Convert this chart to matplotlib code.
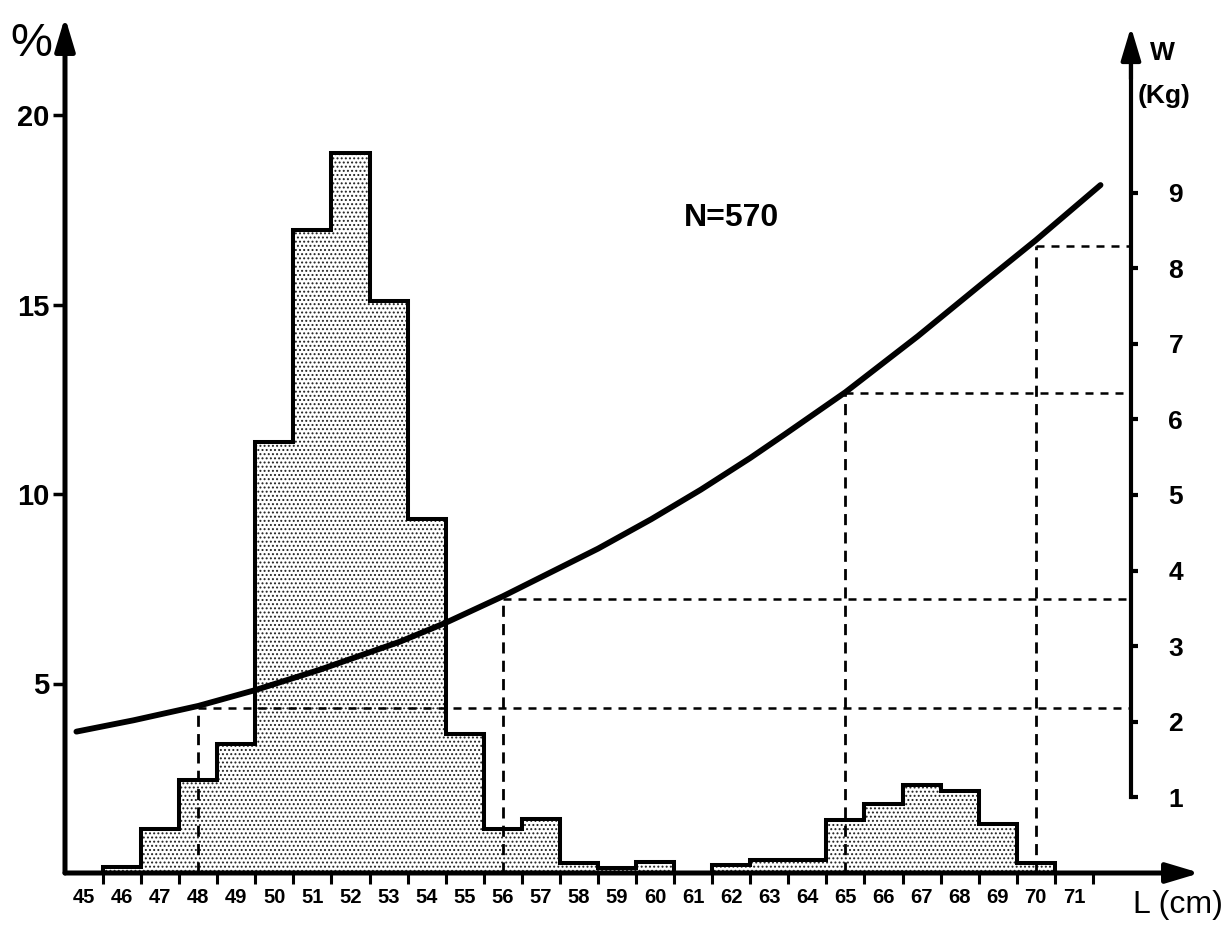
import matplotlib.pyplot as plt
import numpy as np

plt.rcParams["font.family"] = ["Liberation Sans", "DejaVu Sans"]
plt.rcParams["hatch.linewidth"] = 0.9

# length classes (cm) and their share of the sample (%)
lengths = np.arange(45, 72)
percent = [0.0, 0.15, 1.16, 2.45, 3.4, 11.37, 16.97, 19.0, 15.1, 9.34, 3.66,
           1.16, 1.42, 0.26, 0.13, 0.29, 0.0, 0.21, 0.34, 0.34, 1.4, 1.82,
           2.32, 2.16, 1.29, 0.26, 0.0]
edges = np.append(lengths - 0.5, lengths[-1] + 0.5)

# length-weight curve, W in kg
curve_L = [44.8, 46.3, 48.0, 49.5, 51.2, 53.3, 54.5, 56.0, 58.5, 59.9,
           61.2, 62.5, 63.4, 65.0, 66.9, 68.6, 70.0, 71.7]
curve_W = [1.87, 2.02, 2.21, 2.42, 2.69, 3.06, 3.31, 3.66, 4.29, 4.68,
           5.07, 5.49, 5.8, 6.36, 7.1, 7.8, 8.37, 9.1]

# reading lines: length -> weight
guide_L = [48, 56, 65, 70]
guide_W = [2.18, 3.63, 6.35, 8.3]

w_ticks = list(range(1, 10))
pct_ticks = [5, 10, 15, 20]

W_PX, H_PX = 1231, 926
fig = plt.figure(figsize=(W_PX / 100, H_PX / 100), dpi=100)

# axes box in pixels: origin at (65, 873), arrow tips at x=1200 and y=17
x0, x1, y0, y1 = 65, 1200, 873, 17
ax = fig.add_axes([x0 / W_PX, 1 - y0 / H_PX, (x1 - x0) / W_PX, (y0 - y1) / H_PX])
ax.set_xlim(44.5, 44.5 + (x1 - x0) / 38.07)
ax.set_ylim(0, (y0 - y1) / 37.9)
ax2 = ax.twinx()
ax2.set_ylim(0, (y0 - y1) / 75.6)
right_x = 72.5

for a in (ax, ax2):
    for s in a.spines.values():
        s.set_visible(False)
    a.patch.set_visible(False)

# histogram: stippled fill plus a heavy outline
ax.stairs(percent, edges, fill=True, hatch="....", facecolor="white",
          edgecolor="#222222", lw=0, zorder=1)
ax.stairs(percent, edges, color="black", lw=2.9, zorder=2)

# axes drawn as arrows
arrow = dict(arrowstyle="-|>,head_length=1.0,head_width=0.3", lw=3.6,
             color="black", shrinkA=0, shrinkB=0, mutation_scale=20)
ax.annotate("", xy=(0, 1), xycoords="axes fraction", xytext=(0, 0), arrowprops=arrow)
ax.annotate("", xy=(1, 0), xycoords="axes fraction", xytext=(0, 0), arrowprops=arrow)

# left axis ticks
ax.set_yticks(pct_ticks)
ax.set_yticklabels([str(t) for t in pct_ticks], fontsize=21, fontweight="bold")
ax.tick_params(axis="y", direction="out", length=9, width=2.5, pad=2)

# x ticks at class limits, labels at class centres
ax.set_xticks(np.arange(45.5, 72.5, 1.0))
ax.set_xticklabels([])
ax.set_xticks(lengths, minor=True)
ax.set_xticklabels([str(v) for v in lengths], minor=True, fontsize=14.5,
                   fontweight="bold")
ax.tick_params(axis="x", which="major", direction="out", length=8, width=2.2)
ax.tick_params(axis="x", which="minor", length=0, pad=11)

# weight axis on the right
ax2.spines["right"].set_visible(True)
ax2.spines["right"].set_position(("data", right_x))
ax2.spines["right"].set_bounds(1, 10.8)
ax2.spines["right"].set_linewidth(3.0)
ax2.annotate("", xy=(right_x, (y0 - 27) / 75.6), xytext=(right_x, 10.5),
             arrowprops=dict(arrow, lw=3.0))
ax2.set_yticks(w_ticks)
ax2.set_yticklabels([str(t) for t in w_ticks], fontsize=19, fontweight="bold")
ax2.tick_params(axis="y", direction="out", length=5, width=3, pad=22)

# length-weight curve and reading lines
ax2.plot(curve_L, curve_W, color="black", lw=4.2, solid_capstyle="round",
         solid_joinstyle="round", zorder=4)
for L, w in zip(guide_L, guide_W):
    ax2.plot([L, L], [0, w], color="black", lw=2.0, dashes=(4.0, 2.6), zorder=3)
    ax2.plot([L, right_x], [w, w], color="black", lw=1.8, dashes=(3.2, 2.8), zorder=3)


def label(x, y, s, **kw):
    fig.text(x / W_PX, 1 - y / H_PX, s, ha="center", va="center", **kw)


label(31, 44, "%", fontsize=34)
label(1162, 53, "W", fontsize=19, fontweight="bold")
label(1164, 96, "(Kg)", fontsize=19, fontweight="bold")
label(1178, 905, "L (cm)", fontsize=23)
label(731, 218, "N=570", fontsize=23, fontweight="bold")

fig.savefig("out.png", dpi=100)
